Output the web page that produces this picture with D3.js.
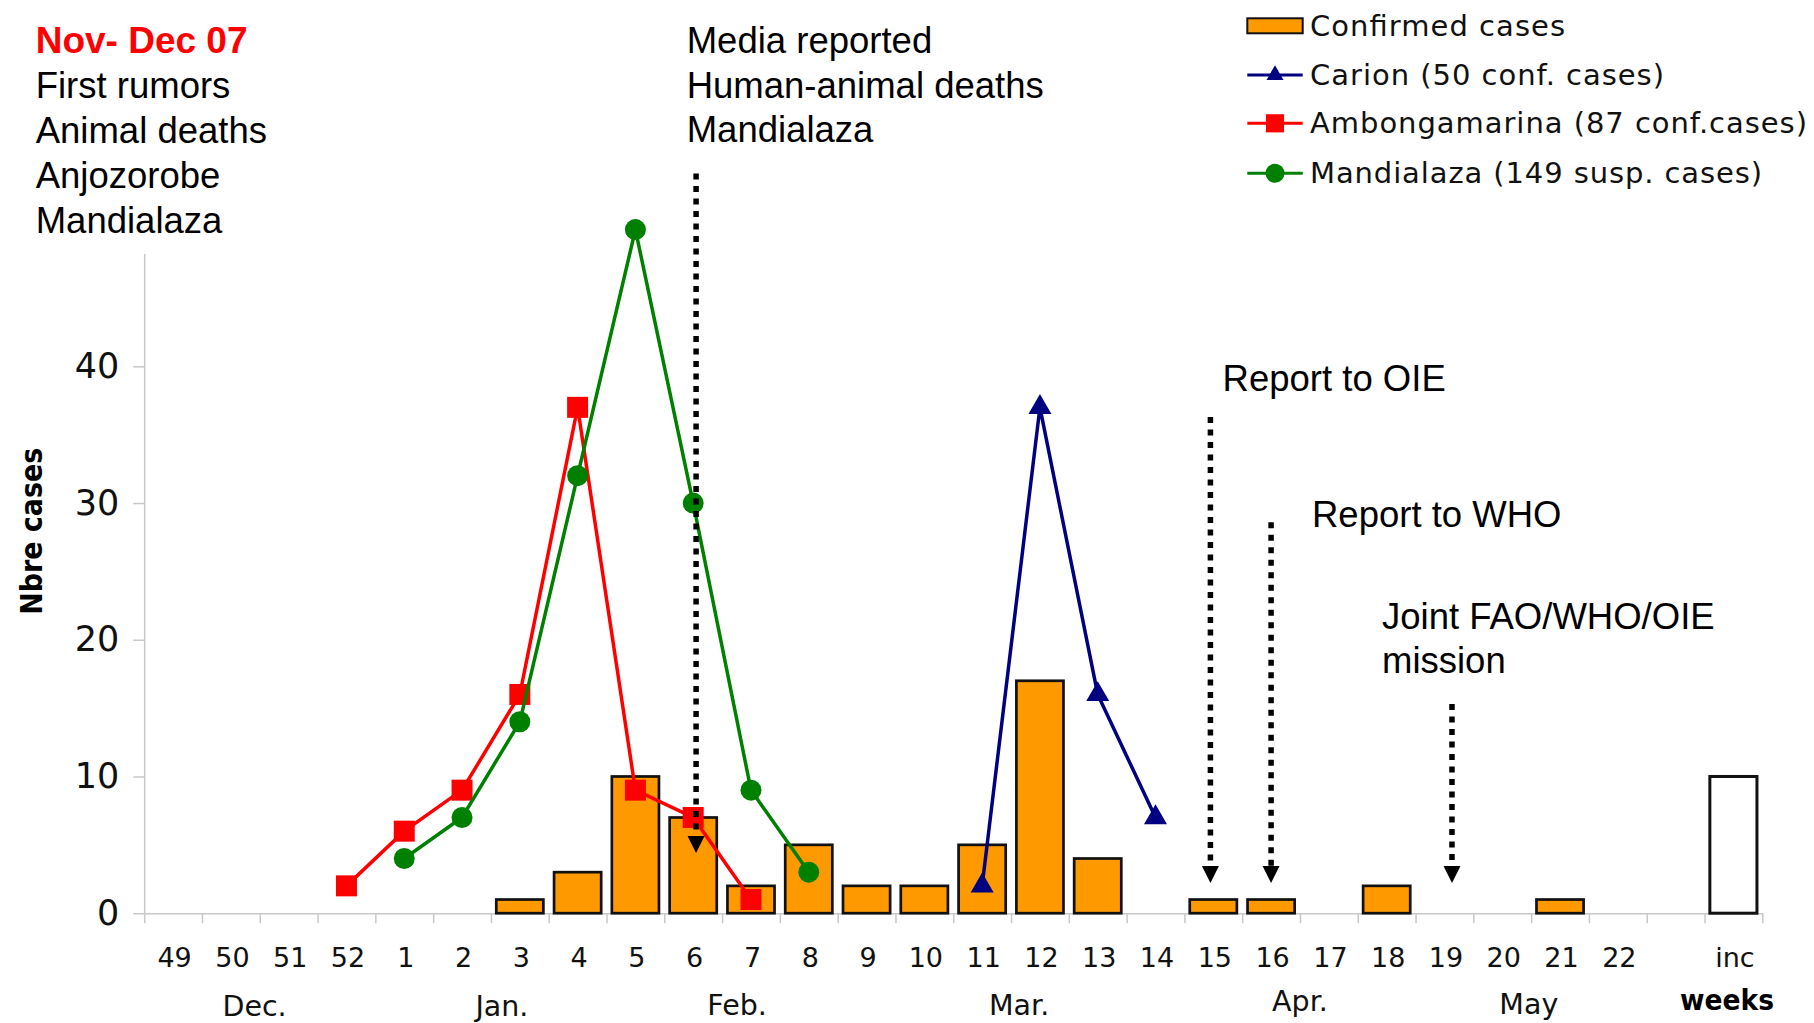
<!DOCTYPE html>
<html>
<head>
<meta charset="utf-8">
<script src="https://cdn.jsdelivr.net/npm/d3@7"></script>
<style>
  html, body { margin: 0; padding: 0; background: #fff; }
  svg { display: block; }
</style>
</head>
<body>
<svg id="chart" width="1814" height="1023"></svg>
<script>
// ---------------- DATA ----------------
const weeks = ["49","50","51","52","1","2","3","4","5","6","7","8","9","10","11","12","13","14","15","16","17","18","19","20","21","22","","inc"];
const yTicks = [0, 10, 20, 30, 40];

const confirmedWeeks = ["3","4","5","6","7","8","9","10","11","12","13","15","16","18","21"];
const confirmedCases = [1, 3, 10, 7, 2, 5, 2, 2, 5, 17, 4, 1, 1, 2, 1];

const incompleteWeeks = ["inc"];
const incompleteCases = [10];

const carionWeeks = ["11","12","13","14"];
const carionCases = [2, 37, 16, 7];

const ambongWeeks = ["52","1","2","3","4","5","6","7"];
const ambongCases = [2, 6, 9, 16, 37, 9, 7, 1];

const mandiaWeeks = ["1","2","3","4","5","6","7","8"];
const mandiaCases = [4, 7, 14, 32, 50, 30, 9, 3];

const monthLabels = ["Dec.", "Jan.", "Feb.", "Mar.", "Apr.", "May"];

const legendLabels = ["Confirmed cases", "Carion (50 conf. cases)", "Ambongamarina (87 conf.cases)", "Mandialaza (149 susp. cases)"];

const noteTitle = "Nov- Dec 07";
const noteFirst = ["First rumors", "Animal deaths", "Anjozorobe", "Mandialaza"];
const noteMedia = ["Media reported", "Human-animal deaths", "Mandialaza"];
const noteOIE = ["Report to OIE"];
const noteWHO = ["Report to WHO"];
const noteJoint = ["Joint FAO/WHO/OIE", "mission"];

// event arrows: week they point at, and value range (top of dotted line -> tip)
const arrowWeeks = ["6", "15", "16", "19"];
const arrowTop = [54.1, 36.3, 28.6, 15.3];
const arrowTip = [4.4, 2.2, 2.2, 2.2];

// ---------------- LAYOUT ----------------
const W = 1814, H = 1023;
const xLeft = 144.2, xRight = 1762.3;
const yBottom = 913.2, yTop = 253.4, yMax = 48.26;
const arrowShift = [0.05, -0.05, 0, 0.13];        // fraction of a step
const monthPos = [1.91, 6.19, 10.26, 15.14, 20.0, 23.96]; // in steps from left
const monthBase = [1016, 1016, 1015, 1015, 1011, 1014];

const C = { orange: "#FF9900", navy: "#000080", red: "#FF0000", green: "#008000", axis: "#c8c8c8" };
const SANS = "'Liberation Sans', Arial, sans-serif";
const LUC = "'DejaVu Sans', Verdana, sans-serif";

const svg = d3.select("#chart");
svg.append("rect").attr("width", W).attr("height", H).attr("fill", "#fff");

// ---------------- SCALES ----------------
const x = d3.scaleBand().domain(weeks).range([xLeft, xRight]).paddingInner(0.185).paddingOuter(0.0925);
const step = x.step();
const cx = w => x(w) + x.bandwidth() / 2;
const xi = d3.scaleLinear().domain([0, weeks.length]).range([xLeft, xRight]);
const y = d3.scaleLinear().domain([0, yMax]).range([yBottom, yTop]);

// ---------------- AXES ----------------
const yAxis = svg.append("g").attr("transform", `translate(${xLeft},0)`)
  .call(d3.axisLeft(y).tickValues(yTicks).tickSize(11).tickSizeOuter(0).tickPadding(14));
yAxis.selectAll("path, line").attr("stroke", C.axis).attr("stroke-width", 1.5);
yAxis.selectAll("text").attr("font-family", LUC).attr("font-size", 35).attr("fill", "#111");

const xTickAxis = svg.append("g").attr("transform", `translate(0,${yBottom})`)
  .call(d3.axisBottom(xi).tickValues(d3.range(weeks.length + 1)).tickSize(10).tickSizeOuter(0).tickFormat(""));
xTickAxis.selectAll("path, line").attr("stroke", C.axis).attr("stroke-width", 1.5);

const xAxis = svg.append("g").attr("transform", `translate(1.5,${yBottom})`)
  .call(d3.axisBottom(x).tickSize(0).tickPadding(34.5));
xAxis.select("path").remove();
xAxis.selectAll("text").attr("font-family", LUC).attr("font-size", 27).attr("fill", "#111");

// month labels
svg.append("g").selectAll("text").data(monthLabels).join("text")
  .attr("x", (d, i) => xi(0) + monthPos[i] * step)
  .attr("y", (d, i) => monthBase[i])
  .attr("text-anchor", "middle")
  .attr("font-family", LUC).attr("font-size", 28.5).attr("fill", "#111")
  .text(d => d);

svg.append("text")
  .attr("x", xi(0) + 27.39 * step).attr("y", 1010)
  .attr("text-anchor", "middle")
  .attr("font-family", LUC).attr("font-weight", "bold").attr("font-size", 28)
  .attr("textLength", 94).attr("lengthAdjust", "spacingAndGlyphs")
  .text("weeks");

svg.append("text")
  .attr("transform", `translate(41.5,531.3) rotate(-90)`)
  .attr("text-anchor", "middle")
  .attr("font-family", LUC).attr("font-weight", "bold").attr("font-size", 31)
  .attr("textLength", 167).attr("lengthAdjust", "spacingAndGlyphs")
  .text("Nbre cases");

// ---------------- BARS ----------------
svg.append("g").selectAll("rect").data(confirmedWeeks).join("rect")
  .attr("x", w => x(w)).attr("width", x.bandwidth())
  .attr("y", (w, i) => y(confirmedCases[i]))
  .attr("height", (w, i) => y(0) - y(confirmedCases[i]))
  .attr("fill", C.orange).attr("stroke", "#111").attr("stroke-width", 2.7);

svg.append("g").selectAll("rect").data(incompleteWeeks).join("rect")
  .attr("x", w => x(w)).attr("width", x.bandwidth())
  .attr("y", (w, i) => y(incompleteCases[i]))
  .attr("height", (w, i) => y(0) - y(incompleteCases[i]))
  .attr("fill", "#fff").attr("stroke", "#111").attr("stroke-width", 3);

// ---------------- LINES ----------------
const series = [
  { w: carionWeeks, v: carionCases, color: C.navy, sym: d3.symbolTriangle, size: 229 },
  { w: ambongWeeks, v: ambongCases, color: C.red, sym: d3.symbolSquare, size: 441 },
  { w: mandiaWeeks, v: mandiaCases, color: C.green, sym: d3.symbolCircle, size: 346 }
];
const line = d3.line().x(d => cx(d[0])).y(d => y(d[1]));
series.forEach(s => {
  const pts = s.w.map((w, i) => [w, s.v[i]]);
  const g = svg.append("g");
  g.append("path").attr("d", line(pts)).attr("fill", "none")
    .attr("stroke", s.color).attr("stroke-width", 3.5).attr("stroke-linejoin", "miter");
  g.selectAll("path.m").data(pts).join("path").attr("class", "m")
    .attr("transform", d => `translate(${cx(d[0])},${y(d[1])})`)
    .attr("d", d3.symbol(s.sym, s.size)())
    .attr("fill", s.color);
});

// ---------------- EVENT ARROWS ----------------
const arrowG = svg.append("g");
arrowWeeks.forEach((w, i) => {
  const ax = cx(w) + arrowShift[i] * step;
  const yTip = y(arrowTip[i]);
  arrowG.append("line")
    .attr("x1", ax).attr("x2", ax)
    .attr("y1", y(arrowTop[i])).attr("y2", yTip - 17)
    .attr("stroke", "#000").attr("stroke-width", 5.5).attr("stroke-dasharray", "6,6.5");
  arrowG.append("path")
    .attr("d", `M${ax},${yTip} L${ax - 8.5},${yTip - 17} L${ax + 8.5},${yTip - 17} Z`)
    .attr("fill", "#000");
});

// ---------------- ANNOTATIONS ----------------
function block(lines, x0, y0, lh, opts = {}) {
  svg.append("g").selectAll("text").data(lines).join("text")
    .attr("x", x0).attr("y", (d, i) => y0 + i * lh)
    .attr("font-family", SANS).attr("font-size", opts.size || 36.5)
    .attr("font-weight", opts.weight || "normal")
    .attr("fill", opts.color || "#000")
    .text(d => d);
}
block([noteTitle], 35.7, 53.3, 0, { color: "#FF0000", weight: "bold", size: 37 });
block(noteFirst, 35.7, 98.2, 44.8);
block(noteMedia, 686.7, 53.3, 44.4);
block(noteOIE, 1222.6, 391.4, 0);
block(noteWHO, 1312, 527, 0);
block(noteJoint, 1382, 628.5, 44);

// ---------------- LEGEND ----------------
const legX0 = 1247.3, legX1 = 1302.7, legTx = 1310;
const legRows = [25.8, 75, 123.3, 173.3];
const legLen = [255, 354, 497, 452];
const lg = svg.append("g");
lg.append("rect").attr("x", legX0).attr("y", legRows[0] - 7.5).attr("width", legX1 - legX0).attr("height", 15)
  .attr("fill", C.orange).attr("stroke", "#111").attr("stroke-width", 2);
const legSyms = [
  { color: C.navy, sym: d3.symbolTriangle, size: 125 },
  { color: C.red, sym: d3.symbolSquare, size: 330 },
  { color: C.green, sym: d3.symbolCircle, size: 283 }
];
legSyms.forEach((s, i) => {
  const cy = legRows[i + 1];
  lg.append("line").attr("x1", legX0).attr("x2", legX1).attr("y1", cy).attr("y2", cy)
    .attr("stroke", s.color).attr("stroke-width", 3);
  lg.append("path").attr("transform", `translate(${(legX0 + legX1) / 2},${cy})`)
    .attr("d", d3.symbol(s.sym, s.size)()).attr("fill", s.color);
});
lg.selectAll("text").data(legendLabels).join("text")
  .attr("x", legTx).attr("y", (d, i) => legRows[i] + 10)
  .attr("font-family", LUC).attr("font-size", 29).attr("fill", "#111")
  .attr("textLength", (d, i) => legLen[i]).attr("lengthAdjust", "spacing")
  .text(d => d);
</script>
</body>
</html>
